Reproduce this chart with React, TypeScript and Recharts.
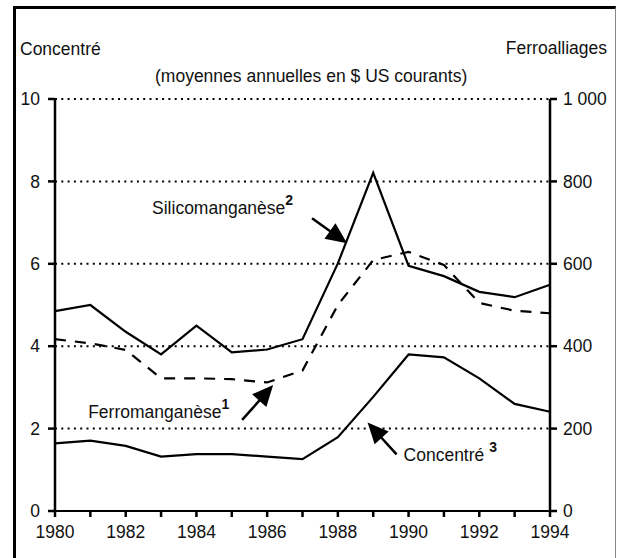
import React from 'react';
import {
  LineChart,
  Line,
  XAxis,
  YAxis,
  CartesianGrid,
  ReferenceDot,
} from 'recharts';

const years = [1980, 1981, 1982, 1983, 1984, 1985, 1986, 1987, 1988, 1989, 1990, 1991, 1992, 1993, 1994];
// Ferroalliages (right axis, $ US)
const silicomanganese = [485, 500, 435, 380, 450, 385, 392, 417, 601, 821, 595, 570, 532, 519, 549];
const ferromanganese = [417, 407, 391, 322, 322, 320, 312, 341, 500, 609, 629, 597, 505, 486, 480];
// Concentré (left axis)
const concentre = [1.64, 1.71, 1.58, 1.32, 1.38, 1.38, 1.32, 1.26, 1.79, 2.77, 3.8, 3.73, 3.22, 2.6, 2.41];

const leftTicks = [0, 2, 4, 6, 8, 10];
const rightTicks = [0, 200, 400, 600, 800, 1000];

const FONT = '"Liberation Sans", Arial, sans-serif';

const data = years.map((year, i) => ({
  year,
  silico: silicomanganese[i],
  ferro: ferromanganese[i],
  conc: concentre[i],
}));

// arrow + label drawn relative to the arrow tip (cx, cy)
function makeCallout(tail: [number, number], textPos: [number, number], text: string, sup: string, supGap = 0) {
  return function Callout(props: any) {
    const { cx, cy } = props;
    if (cx == null || cy == null) return null;
    const tx = cx + tail[0];
    const ty = cy + tail[1];
    const dx = cx - tx;
    const dy = cy - ty;
    const len = Math.sqrt(dx * dx + dy * dy);
    const ux = dx / len;
    const uy = dy / len;
    const headLen = 21;
    const headW = 9.5;
    const bx = cx - ux * headLen;
    const by = cy - uy * headLen;
    const p1 = `${cx},${cy}`;
    const p2 = `${bx - uy * headW},${by + ux * headW}`;
    const p3 = `${bx + uy * headW},${by - ux * headW}`;
    return (
      <g>
        <line x1={tx} y1={ty} x2={bx + ux * 2} y2={by + uy * 2} stroke="#000" strokeWidth={2.5} />
        <polygon points={`${p1} ${p2} ${p3}`} fill="#000" />
        <text x={cx + textPos[0]} y={cy + textPos[1]} fontFamily={FONT} fontSize={17.5} fill="#111">
          {text}
          <tspan dx={supGap} dy={-9} fontSize={14} fontWeight="bold">
            {sup}
          </tspan>
        </text>
      </g>
    );
  };
}

const SilicoCallout = makeCallout([-35, -25], [-195, -29], 'Silicomanganèse', '2');
const FerroCallout = makeCallout([-31, 35], [-185, 33], 'Ferromanganèse', '1');
const ConcCallout = makeCallout([29, 32], [36, 39], 'Concentré', '3', 5);

export default function App() {
  return (
    <div
      style={{
        position: 'absolute',
        left: 0,
        top: 0,
        width: 617,
        height: 558,
        overflow: 'hidden',
        background: '#fff',
        fontFamily: FONT,
      }}
    >
      <div
        style={{
          position: 'absolute',
          left: 13,
          top: 6,
          width: 599,
          height: 620,
          borderLeft: '3px solid #000',
          borderTop: '3px solid #000',
          borderRight: '1px solid #888',
        }}
      />
      <div style={{ position: 'absolute', left: 20, top: 39, fontSize: 17.5, color: '#111' }}>Concentré</div>
      <div style={{ position: 'absolute', right: 10, top: 38, fontSize: 17.5, color: '#111' }}>Ferroalliages</div>
      <div style={{ position: 'absolute', left: 155, top: 66, fontSize: 17.5, color: '#111' }}>
        (moyennes annuelles en $ US courants)
      </div>
      <LineChart
        width={617}
        height={558}
        data={data}
        margin={{ top: 99, right: 7, left: 15, bottom: 11 }}
        style={{ position: 'absolute', left: 0, top: 0 }}
      >
        <CartesianGrid
          yAxisId="left"
          horizontal
          vertical={false}
          stroke="#000"
          strokeWidth={2}
          strokeDasharray="2 4.3"
          horizontalValues={leftTicks}
        />
        <XAxis
          dataKey="year"
          type="number"
          domain={[1980, 1994]}
          ticks={years}
          interval={0}
          tickFormatter={(v: number) => (v % 2 === 0 ? String(v) : '')}
          axisLine={{ stroke: '#000', strokeWidth: 2 }}
          tickLine={{ stroke: '#000', strokeWidth: 2.5 }}
          tickSize={6}
          tickMargin={9}
          height={36}
          tick={{ fontSize: 17.5, fill: '#111', fontFamily: FONT }}
        />
        <YAxis
          yAxisId="left"
          domain={[0, 10]}
          ticks={leftTicks}
          interval={0}
          width={40}
          axisLine={{ stroke: '#000', strokeWidth: 2.5 }}
          tickLine={{ stroke: '#000', strokeWidth: 2.5 }}
          tickSize={7}
          tickMargin={8}
          tick={{ fontSize: 17.5, fill: '#111', fontFamily: FONT }}
        />
        <YAxis
          yAxisId="right"
          orientation="right"
          domain={[0, 1000]}
          ticks={rightTicks}
          interval={0}
          width={60}
          axisLine={{ stroke: '#000', strokeWidth: 2.5 }}
          tickLine={{ stroke: '#000', strokeWidth: 2.5 }}
          tickSize={7}
          tickMargin={6}
          tickFormatter={(v: number) => (v === 1000 ? '1 000' : String(v))}
          tick={{ fontSize: 17.5, fill: '#111', fontFamily: FONT }}
        />
        <Line
          yAxisId="right"
          dataKey="silico"
          type="linear"
          stroke="#000"
          strokeWidth={2.2}
          dot={false}
          isAnimationActive={false}
        />
        <Line
          yAxisId="right"
          dataKey="ferro"
          type="linear"
          stroke="#000"
          strokeWidth={2.2}
          strokeDasharray="11 9"
          dot={false}
          isAnimationActive={false}
        />
        <Line
          yAxisId="left"
          dataKey="conc"
          type="linear"
          stroke="#000"
          strokeWidth={2.2}
          dot={false}
          isAnimationActive={false}
        />
        <ReferenceDot yAxisId="right" x={1988.26} y={650} r={0} shape={SilicoCallout} />
        <ReferenceDot yAxisId="right" x={1986.17} y={306} r={0} shape={FerroCallout} />
        <ReferenceDot yAxisId="left" x={1988.84} y={2.15} r={0} shape={ConcCallout} />
      </LineChart>
    </div>
  );
}
